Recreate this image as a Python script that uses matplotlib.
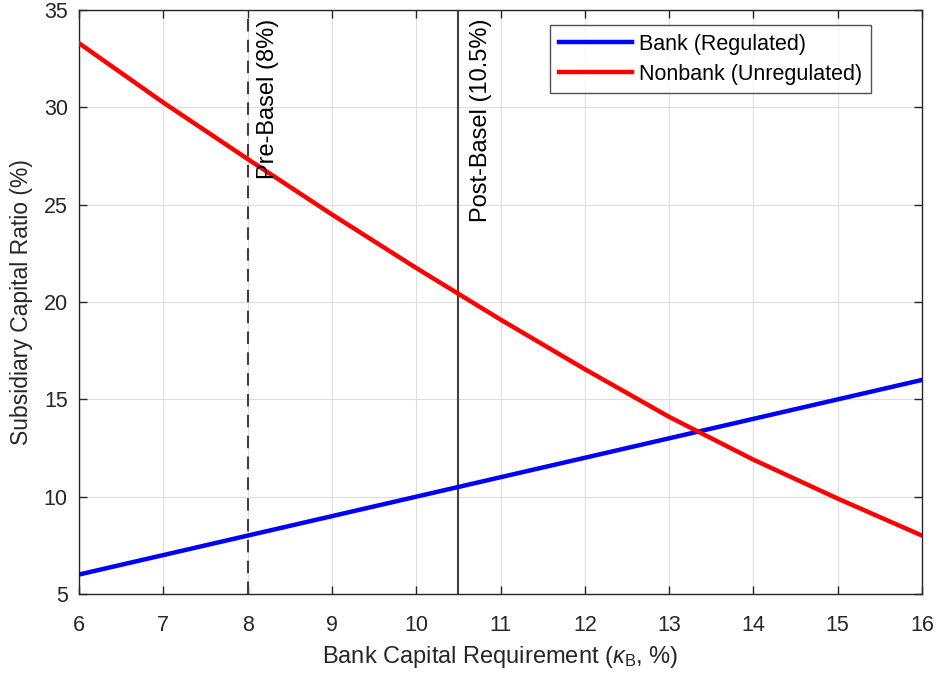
import matplotlib
matplotlib.use("Agg")
import matplotlib.pyplot as plt

plt.rcParams['font.family'] = ['Liberation Sans', 'DejaVu Sans']
plt.rcParams['mathtext.fontset'] = 'custom'
plt.rcParams['mathtext.rm'] = 'Liberation Sans'
plt.rcParams['mathtext.it'] = 'Liberation Sans:italic'

# Bank capital requirement (kappa_B, %)
kappa = [6, 7, 8, 9, 10, 11, 12, 13, 14, 15, 16]
# Subsidiary capital ratios (%)
bank_ratio = [6, 7, 8, 9, 10, 11, 12, 13, 14, 15, 16]
nonbank_ratio = [33.3, 30.25, 27.35, 24.5, 21.75, 19.1, 16.55, 14.1, 11.9, 9.9, 8.0]

pre_basel = 8.0
post_basel = 10.5

fig = plt.figure(figsize=(9.38, 6.75), dpi=100)
ax = fig.add_axes([0.0842, 0.12, 0.8988, 0.865])

ax.plot(kappa, bank_ratio, color=(0, 0, 1), lw=3.2, label='Bank (Regulated)', zorder=3)
ax.plot(kappa, nonbank_ratio, color=(1, 0, 0), lw=3.2, label='Nonbank (Unregulated)', zorder=3)

ax.axvline(pre_basel, color='#404040', lw=1.5, ls=(0, (6, 4)), zorder=2)
ax.axvline(post_basel, color='#404040', lw=1.5, ls='-', zorder=2)

ax.text(pre_basel + 0.24, 34.55, 'Pre-Basel (8%)', rotation=90, ha='center', va='top',
        fontsize=17)
ax.text(post_basel + 0.27, 34.55, 'Post-Basel (10.5%)', rotation=90, ha='center', va='top',
        fontsize=17)

ax.set_xlim(6, 16)
ax.set_ylim(5, 35)
ax.set_xticks(range(6, 17))
ax.set_yticks(range(5, 36, 5))
ax.tick_params(direction='in', top=True, right=True, labelsize=15.5, length=6,
               width=1, colors='#262626', labelcolor='#262626')
ax.tick_params(axis='x', pad=15)
ax.tick_params(axis='y', pad=8)
ax.grid(True, color='#dedede', lw=0.8)
ax.set_axisbelow(True)
for s in ax.spines.values():
    s.set_color('#262626')
    s.set_linewidth(1)

ax.set_xlabel(r'Bank Capital Requirement ($\kappa_{\rm B}$, %)', fontsize=17,
              color='#262626', labelpad=6)
ax.set_ylabel('Subsidiary Capital Ratio (%)', fontsize=16.5, color='#262626', labelpad=8)

leg = ax.legend(loc='upper right', bbox_to_anchor=(0.9395, 0.974), fontsize=15.5,
                handlelength=3.4, frameon=True, fancybox=False, borderaxespad=0,
                handletextpad=0.35, borderpad=0.4, labelspacing=0.4)
leg.get_frame().set_edgecolor('#262626')
leg.get_frame().set_linewidth(1)

fig.savefig('out.png', dpi=100)
